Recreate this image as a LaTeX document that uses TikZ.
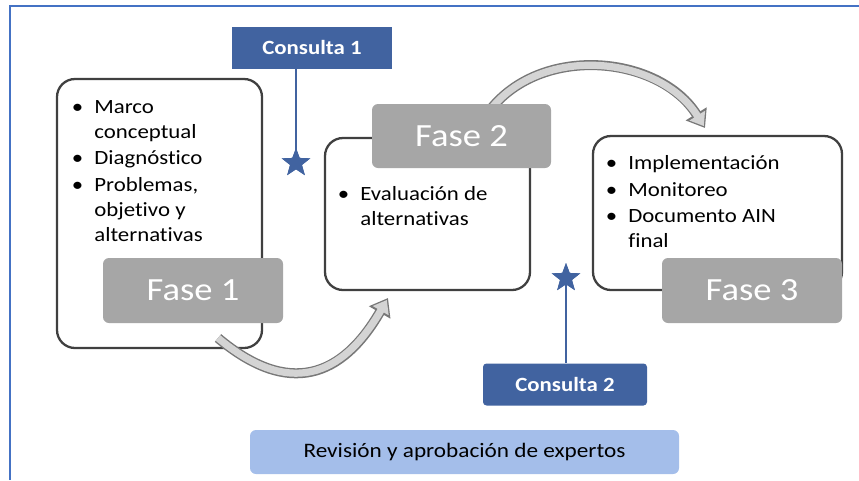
\documentclass[tikz,border=0pt]{standalone}
\usepackage{fontspec}
\setmainfont[FakeStretch=1.13,Ligatures=CommonOff]{Carlito}
\usetikzlibrary{shapes.geometric,arrows.meta}

\definecolor{azul}{RGB}{65,99,160}
\definecolor{marco}{RGB}{68,114,196}
\definecolor{celeste}{RGB}{164,190,234}
\definecolor{gris}{RGB}{166,166,166}
\definecolor{borde}{RGB}{64,64,64}
\definecolor{flechaborde}{RGB}{120,120,120}
\definecolor{flechafondo}{RGB}{212,212,212}

\newcommand{\vineta}{\llap{\textbullet\hspace{0.22cm}}}

\begin{document}
\begin{tikzpicture}[
   caja/.style={draw=borde,line width=1.3pt,rounded corners=0.36cm,fill=white},
   fase/.style={fill=gris,rounded corners=0.12cm,text=white,
      font=\fontsize{18.4}{22}\selectfont,minimum width=3.6cm,minimum height=1.3cm},
   consulta/.style={fill=azul,text=white,font=\bfseries\fontsize{11.5}{13}\selectfont,
      minimum height=0.84cm},
   lista/.style={anchor=north west,inner sep=0pt,align=left,
      font=\fontsize{11.5}{14.2}\selectfont},
   estrella/.style={star,star points=5,star point ratio=2.4,fill=azul,
      inner sep=0pt,minimum size=0.6cm},
   palo/.style={draw=azul,line width=1.1pt},
   flechaext/.style={line width=5.7pt,draw=flechaborde,
      -{Triangle[length=9.5pt,width=13.5pt]}},
   flechaint/.style={line width=4.1pt,draw=flechafondo,shorten >=1.3pt,
      -{Triangle[length=7pt,width=10pt]}},
   ]
   \useasboundingbox (0,0) rectangle (17.18,9.6) ;
   %\draw[very thin,gray,step=0.5] (0,0) grid (17.18,9.6) ;

   % marco de la figura
   \draw[marco,line width=1.1pt] (0.2,0) -- (0.2,9.48) -- (17.18,9.48) ;

   % cajas de contenido
   \node[caja,minimum width=4.1cm,minimum height=5.38cm] (caja1) at (3.19,5.33) {} ;
   \node[caja,minimum width=4.1cm,minimum height=3.04cm] (caja2) at (8.55,5.32) {} ;
   \node[caja,minimum width=4.98cm,minimum height=3.08cm] (caja3) at (14.35,5.34) {} ;

   \node[lista] (lista1) at (1.88,7.6)
      {\vineta Marco\\ conceptual\\[1pt]
       \vineta Diagnóstico\\[1pt]
       \vineta Problemas,\\ objetivo y\\ alternativas} ;
   \node[lista] (lista2) at (7.2,5.88)
      {\vineta Evaluación de\\ alternativas} ;
   \node[lista] (lista3) at (12.56,6.5)
      {\vineta Implementación\\[1pt]
       \vineta Monitoreo\\[1pt]
       \vineta Documento AIN\\ final} ;

   % flechas curvas
   \coordinate (f1a) at (4.36,2.84) ;
   \coordinate (f1b) at (7.76,3.64) ;
   \coordinate (f2a) at (9.84,7.45) ;
   \coordinate (f2b) at (14.1,7.04) ;
   \draw[flechaext] (f1a) to[out=-40,in=-120,looseness=1.35] (f1b) ;
   \draw[flechaint] (f1a) to[out=-40,in=-120,looseness=1.35] (f1b) ;
   \draw[flechaext] (f2a) to[out=50,in=122] (f2b) ;
   \draw[flechaint] (f2a) to[out=50,in=122] (f2b) ;

   % fases
   \node[fase] (fase1) at (3.86,3.79) {Fase 1} ;
   \node[fase,minimum width=3.58cm,minimum height=1.28cm] (fase2) at (9.23,6.88) {Fase 2} ;
   \node[fase] (fase3) at (15.04,3.79) {Fase 3} ;

   % consultas a expertos
   \node[consulta,minimum width=3.2cm] (consulta1) at (6.24,8.65) {Consulta 1} ;
   \node[estrella] (estrella1) at (5.92,6.34) {} ;
   \draw[palo] (consulta1.south -| estrella1) -- (estrella1.center) ;
   \node[estrella] at (estrella1) {} ;

   \node[consulta,minimum width=3.28cm,rounded corners=2pt] (consulta2) at (11.3,1.91) {Consulta 2} ;
   \node[estrella] (estrella2) at (11.32,4.04) {} ;
   \draw[palo] (consulta2.north -| estrella2) -- (estrella2.center) ;
   \node[estrella] at (estrella2) {} ;

   \node[fill=celeste,rounded corners=0.12cm,minimum width=8.58cm,minimum height=0.88cm,
      font=\fontsize{11.7}{13}\selectfont] (revision) at (9.29,0.56)
      {Revisión y aprobación de expertos} ;
\end{tikzpicture}
\end{document}
